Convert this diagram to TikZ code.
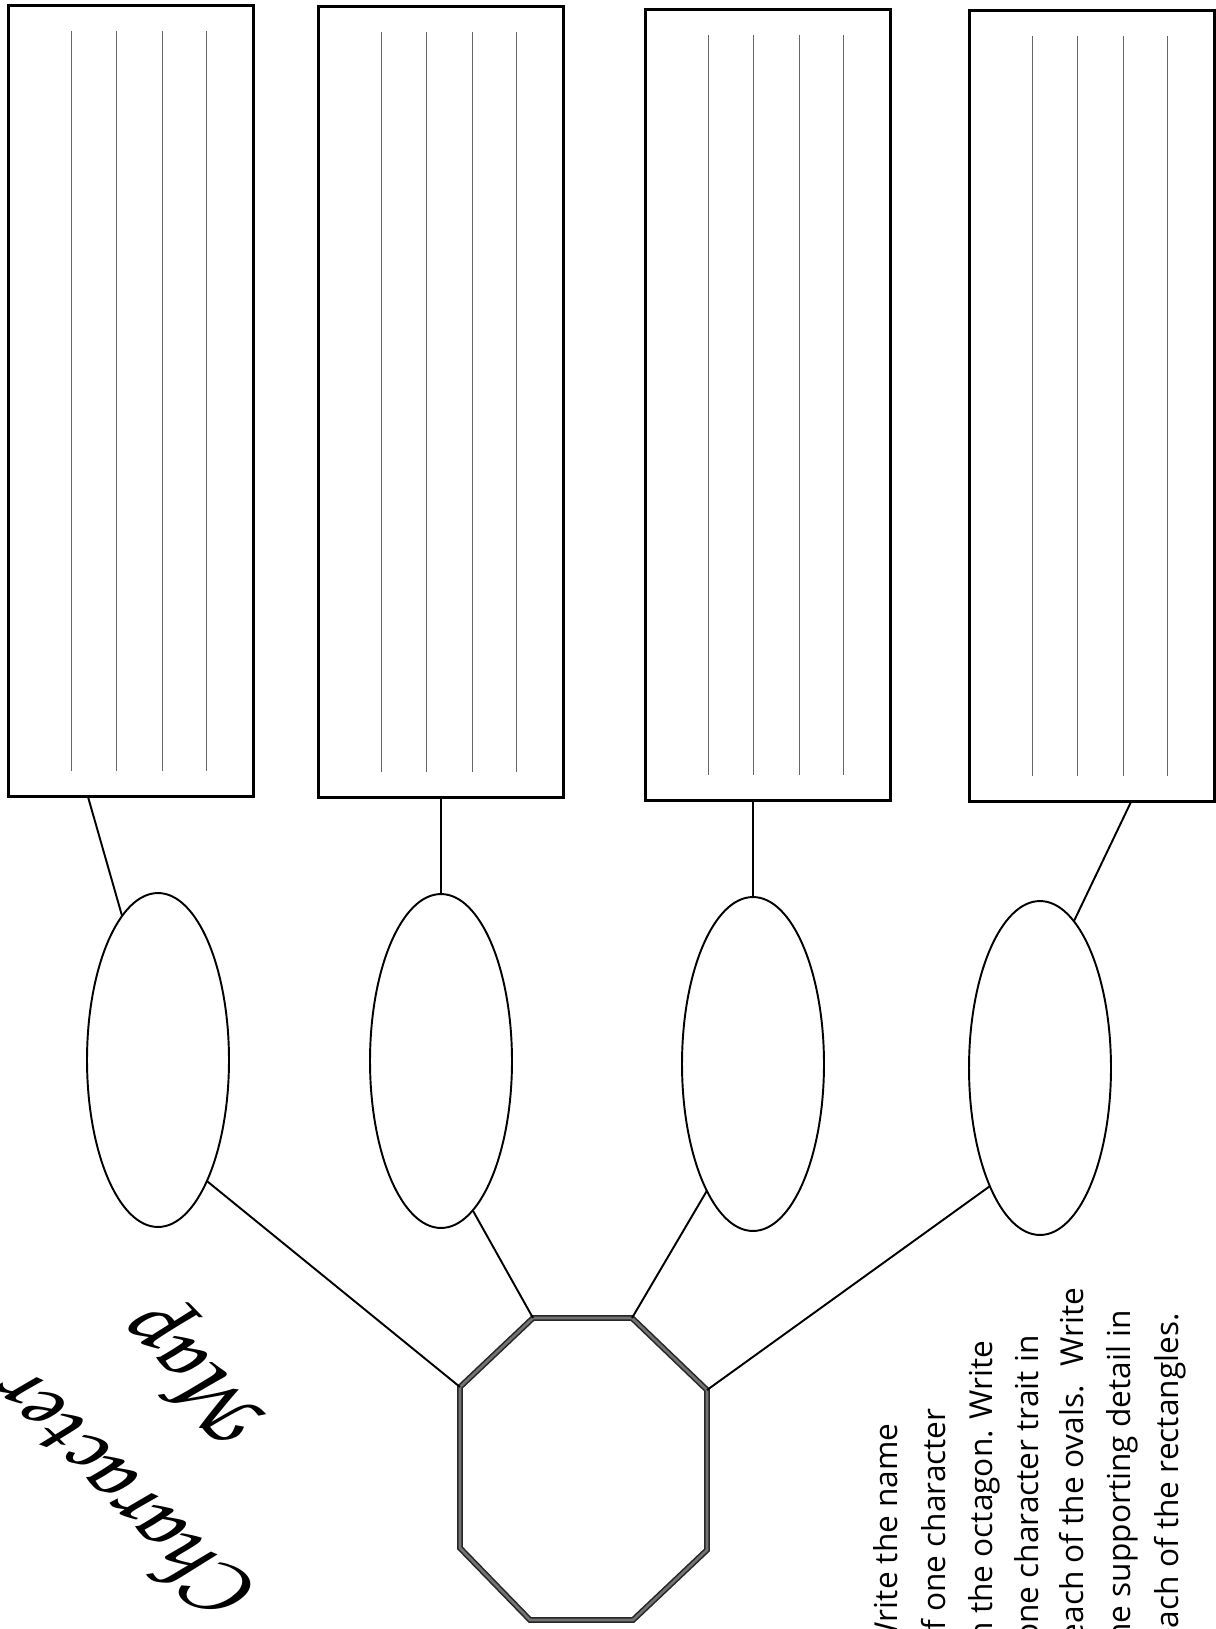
\documentclass[tikz,border=0pt]{standalone}
\usepackage[T1,TU]{fontenc}
\usepackage{fontspec}
\newfontfamily\notefont{Open Sans}
\newcommand{\mapfont}{\fontencoding{T1}\fontfamily{pzc}\fontseries{mb}\fontshape{it}\selectfont}
\usepackage{tikz}
\usetikzlibrary{shapes.geometric}
\tikzstyle{box} = [draw=black, line width=1.7pt, rectangle, minimum width=4.92cm, minimum height=15.84cm, inner sep=0pt, outer sep=0pt]
\tikzstyle{oval} = [draw=black, line width=1.1pt, ellipse, minimum width=2.84cm, minimum height=6.68cm, inner sep=0pt, outer sep=0pt]
\tikzstyle{octline} = [draw=black!85, line width=0.9pt, double=black!55, double distance=1.5pt, line join=miter]
\tikzstyle{rule} = [black!60, line width=0.5pt]
\tikzstyle{link} = [black, line width=1.1pt]
\tikzstyle{note} = [rotate=90, anchor=base east, inner sep=0pt, font=\notefont\fontsize{18}{20}\selectfont]
\tikzstyle{maptitle} = [rotate=135, inner sep=0pt, font=\mapfont\fontsize{54}{54}\selectfont]

\begin{document}
\begin{tikzpicture}[x=0.02cm, y=-0.02cm]
        % Bounding box
        \useasboundingbox (0,0) rectangle (1216,1629);
        \clip (0,0) rectangle (1216,1629);

        % Nodes
        \node[box] (r1) at (131,401) {};
        \node[box] (r2) at (441,402) {};
        \node[box] (r3) at (768,405) {};
        \node[box] (r4) at (1092,406) {};

        \node[oval] (o1) at (158,1060) {};
        \node[oval] (o2) at (441,1061) {};
        \node[oval] (o3) at (753,1064) {};
        \node[oval] (o4) at (1040,1068) {};

        % Octagon corners
        \coordinate (oct-n1) at (533,1318);
        \coordinate (oct-n2) at (632,1318);
        \coordinate (oct-e1) at (707,1390);
        \coordinate (oct-e2) at (707,1550);
        \coordinate (oct-s2) at (633,1620);
        \coordinate (oct-s1) at (530,1620);
        \coordinate (oct-w2) at (460,1548);
        \coordinate (oct-w1) at (460,1387);
        \draw[octline] (oct-n1) -- (oct-n2) -- (oct-e1) -- (oct-e2) -- (oct-s2) -- (oct-s1) -- (oct-w2) -- (oct-w1) -- cycle;

        % Ruled lines in the rectangles
        \foreach \r in {r1,r2,r3,r4}
            \foreach \dx in {-1.2,-0.3,0.62,1.5}
                \draw[rule] ([xshift=\dx cm, yshift=-0.52cm]\r.north) -- ([xshift=\dx cm, yshift=0.52cm]\r.south);

        % Edges
        \draw[link] ([xshift=-0.86cm]r1.south) -- (o1.104);   % r1 -> o1
        \draw[link] (o2.north) -- (o2.north |- r2.south);      % r2 -> o2
        \draw[link] (o3.north) -- (o3.north |- r3.south);      % r3 -> o3
        \draw[link] ([xshift=0.78cm]r4.south) -- (o4.77);     % r4 -> o4

        \draw[link] (o1.292) -- (oct-w1);   % o1 -> oct
        \draw[link] (o2.282) -- (oct-n1);   % o2 -> oct
        \draw[link] (o3.250) -- (oct-n2);   % o3 -> oct
        \draw[link] (o4.247) -- (oct-e1);   % o4 -> oct

        % Title
        \node[maptitle] (title1) at (120,1505) {Character};
        \node[maptitle] (title2) at (200,1375) {Map};

        % Directions
        \foreach \txt/\bx/\ey [count=\i] in {Write the name/897/1423, of one character/945/1408, in the octagon. Write/992/1340, one character trait in/1038/1335, each of the ovals.~ Write/1083/1287, one supporting detail in/1130/1310, each of the rectangles./1178/1313}
            \node[note] (line\i) at (\bx,\ey) {\txt};

\end{tikzpicture}
\end{document}
